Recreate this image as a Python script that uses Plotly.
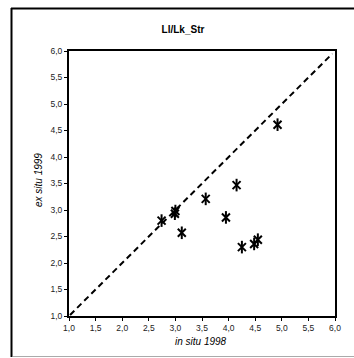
import plotly.graph_objects as go

# data
in_situ_1998 = [2.74, 2.99, 3.00, 3.12, 3.57, 3.95, 4.15, 4.25, 4.48, 4.55, 4.92]
ex_situ_1999 = [2.80, 2.93, 2.98, 2.57, 3.21, 2.86, 3.47, 2.30, 2.36, 2.44, 4.61]
identity_x = [1.02, 5.95]
identity_y = [1.02, 5.95]
tick_vals = [1.0, 1.5, 2.0, 2.5, 3.0, 3.5, 4.0, 4.5, 5.0, 5.5, 6.0]

W, H = 354, 358
L, R, T, B = 69, 335, 51, 316
pw, ph = R - L, B - T

def px(xp):
    return (xp - L) / pw

def py(yp):
    return (B - yp) / ph

fig = go.Figure()
fig.add_trace(go.Scatter(
    x=identity_x, y=identity_y, mode="lines",
    line=dict(color="black", width=2, dash="6px,4px"),
    hoverinfo="skip", showlegend=False))
fig.add_trace(go.Scatter(
    x=in_situ_1998, y=ex_situ_1999, mode="markers",
    marker=dict(symbol="x-thin-open", size=8, color="black",
                line=dict(color="black", width=2)),
    showlegend=False))
fig.add_trace(go.Scatter(
    x=in_situ_1998, y=ex_situ_1999, mode="markers",
    marker=dict(symbol="line-ns-open", size=9, color="black",
                line=dict(color="black", width=2)),
    showlegend=False))

axis_common = dict(
    range=[1, 6], tickvals=tick_vals, tickformat=".1f",
    showgrid=False, zeroline=False,
    showline=True, linecolor="black", linewidth=2, mirror=True,
    ticks="outside", ticklen=3, tickcolor="black", tickwidth=1,
    tickfont=dict(family="Liberation Sans, Arial", size=8.5, color="#222"),
)
fig.update_xaxes(**axis_common)
fig.update_yaxes(**axis_common)

font = "Liberation Sans, Arial"
fig.update_layout(
    width=W, height=H,
    margin=dict(l=L, r=W - R, t=T, b=H - B, pad=0),
    paper_bgcolor="white", plot_bgcolor="white",
    separators=",.",
    hovermode=False,
    title=dict(text="<b>Ll/Lk_Str</b>", x=183 / W, xref="container",
               y=1 - 29 / H, yref="container", xanchor="center", yanchor="middle",
               font=dict(family=font, size=10, color="black")),
    annotations=[
        dict(text="<i>in situ 1998</i>", xref="paper", yref="paper",
             x=px(201), y=py(341), showarrow=False, xanchor="center", yanchor="middle",
             font=dict(family=font, size=10, color="black")),
        dict(text="<i>ex situ 1999</i>", xref="paper", yref="paper",
             x=px(38), y=py(180), showarrow=False, xanchor="center", yanchor="middle",
             textangle=-90, font=dict(family=font, size=10, color="black")),
    ],
    shapes=[
        dict(type="line", xref="paper", yref="paper",
             x0=px(11.5), x1=px(11.5), y0=py(8), y1=py(357),
             line=dict(color="black", width=2)),
        dict(type="line", xref="paper", yref="paper",
             x0=px(11), x1=px(354), y0=py(8.5), y1=py(8.5),
             line=dict(color="black", width=2)),
        dict(type="line", xref="paper", yref="paper",
             x0=px(13), x1=px(354), y0=py(356.5), y1=py(356.5),
             line=dict(color="#aaaaaa", width=1)),
    ],
)

fig.write_html(
    "out.html",
    config={"displayModeBar": False, "staticPlot": True},
    post_script="document.body.style.margin='0';document.body.style.overflow='hidden';",
)
